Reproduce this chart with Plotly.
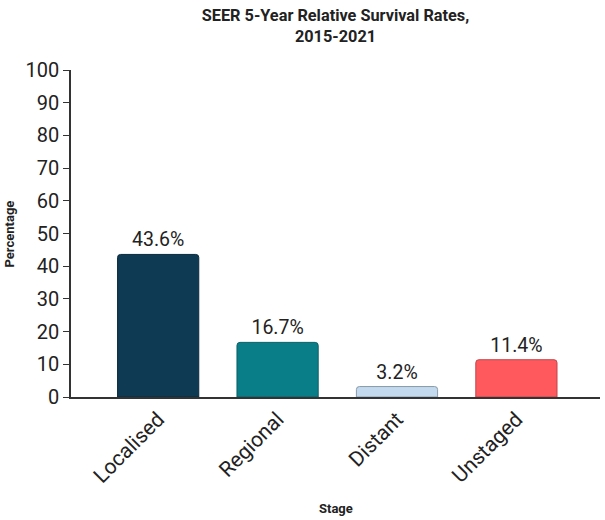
import plotly.graph_objects as go

categories = ["Localised", "Regional", "Distant", "Unstaged"]
values = [43.6, 16.7, 3.2, 11.4]
labels = ["43.6%", "16.7%", "3.2%", "11.4%"]
colors = ["#0E3A53", "#0A7E88", "#C3D9ED", "#FF595E"]
outlines = ["#0A2A3C", "#0A5F66", "#8A9AAA", "#C04449"]

fig = go.Figure(go.Bar(
    x=categories, y=values, text=labels, textposition="outside",
    textfont=dict(size=19.5, color="#222222", family="Roboto"),
    marker=dict(color=colors, line=dict(color=outlines, width=1), cornerradius=3),
    width=0.68, cliponaxis=False,
))

fig.update_layout(
    width=605, height=520,
    margin=dict(l=71, r=5, t=70, b=123, autoexpand=False),
    paper_bgcolor="white", plot_bgcolor="white",
    font=dict(family="Roboto", color="#222222"),
    title=dict(text="<b>SEER 5-Year Relative Survival Rates,<br>2015-2021</b>",
               x=0.5, xanchor="center", xref="paper", y=0.96, yanchor="middle",
               yref="container", automargin=False,
               font=dict(size=16.3, color="#222222")),
    showlegend=False,
    annotations=[
        dict(text="<b>Percentage</b>", xref="paper", yref="paper",
             x=-71 / 529 + 9 / 529, y=0.5, xanchor="center", yanchor="middle",
             textangle=-90, showarrow=False, font=dict(size=13, color="#222222")),
        dict(text="<b>Stage</b>", xref="paper", yref="paper",
             x=0.5, y=-(508 - 397) / 327, xanchor="center", yanchor="middle",
             showarrow=False, font=dict(size=13, color="#222222")),
    ],
)
fig.update_xaxes(
    range=[-0.73, 3.7], showline=True, linecolor="#333333", linewidth=1.5,
    tickangle=-45, tickfont=dict(size=21), ticks="", automargin=False,
)
fig.update_yaxes(
    range=[0, 100], dtick=10, showline=True, linecolor="#333333", linewidth=1.5,
    ticks="outside", ticklen=6, tickcolor="#333333", tickfont=dict(size=20),
    showgrid=False, zeroline=False, automargin=False,
)

fig.write_html("out.html", config={"displayModeBar": False},
               post_script="document.body.style.margin='0px';")
